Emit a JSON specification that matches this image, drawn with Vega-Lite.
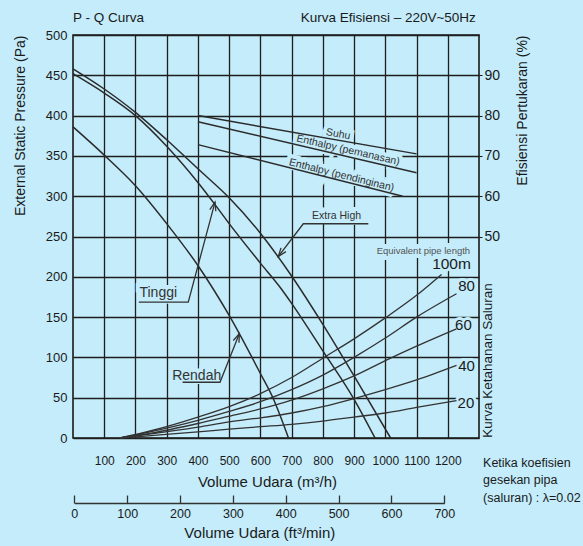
{
  "$schema": "https://vega.github.io/schema/vega-lite/v6.json",
  "width": 406,
  "height": 403,
  "autosize": {"type": "none"},
  "padding": {"left": 73, "top": 35, "right": 104, "bottom": 108},
  "background": "#c4ecfa",
  "config": {
    "font": "Liberation Sans",
    "view": {"stroke": "#1a1a1a", "strokeWidth": 1.6},
    "axis": {"labelFont": "Liberation Sans", "titleFont": "Liberation Sans", "labelColor": "#1a1a1a", "titleColor": "#1a1a1a", "titleFontWeight": "normal", "labelOverlap": false},
    "text": {"font": "Liberation Sans", "color": "#2b2b2b"},
    "line": {"color": "#2b2b2b", "strokeWidth": 1.4}
  },
  "datasets": {
    "pq": [
      {"c": "Extra High", "q": 0, "p": 458}, {"c": "Extra High", "q": 100, "p": 433}, {"c": "Extra High", "q": 200, "p": 404}, {"c": "Extra High", "q": 300, "p": 370}, {"c": "Extra High", "q": 400, "p": 334}, {"c": "Extra High", "q": 500, "p": 298}, {"c": "Extra High", "q": 600, "p": 254}, {"c": "Extra High", "q": 700, "p": 201}, {"c": "Extra High", "q": 800, "p": 141}, {"c": "Extra High", "q": 900, "p": 77}, {"c": "Extra High", "q": 1017, "p": 0},
      {"c": "Tinggi", "q": 0, "p": 452}, {"c": "Tinggi", "q": 100, "p": 428}, {"c": "Tinggi", "q": 200, "p": 400}, {"c": "Tinggi", "q": 300, "p": 362}, {"c": "Tinggi", "q": 400, "p": 317}, {"c": "Tinggi", "q": 450, "p": 292}, {"c": "Tinggi", "q": 500, "p": 266}, {"c": "Tinggi", "q": 600, "p": 217}, {"c": "Tinggi", "q": 663, "p": 187}, {"c": "Tinggi", "q": 700, "p": 167}, {"c": "Tinggi", "q": 800, "p": 108}, {"c": "Tinggi", "q": 900, "p": 48}, {"c": "Tinggi", "q": 967, "p": 0},
      {"c": "Rendah", "q": 0, "p": 386}, {"c": "Rendah", "q": 100, "p": 351}, {"c": "Rendah", "q": 200, "p": 313}, {"c": "Rendah", "q": 300, "p": 266}, {"c": "Rendah", "q": 400, "p": 214}, {"c": "Rendah", "q": 500, "p": 152}, {"c": "Rendah", "q": 600, "p": 80}, {"c": "Rendah", "q": 640, "p": 50}, {"c": "Rendah", "q": 690, "p": 0}
    ],
    "pipe": [
      {"len": "100m", "q": 150, "p": 0}, {"len": "100m", "q": 250, "p": 9}, {"len": "100m", "q": 400, "p": 26}, {"len": "100m", "q": 500, "p": 39}, {"len": "100m", "q": 600, "p": 55}, {"len": "100m", "q": 700, "p": 75}, {"len": "100m", "q": 800, "p": 99}, {"len": "100m", "q": 900, "p": 123}, {"len": "100m", "q": 1000, "p": 149}, {"len": "100m", "q": 1100, "p": 177}, {"len": "100m", "q": 1180, "p": 203},
      {"len": "80m", "q": 150, "p": 0}, {"len": "80m", "q": 250, "p": 8}, {"len": "80m", "q": 400, "p": 22}, {"len": "80m", "q": 500, "p": 33}, {"len": "80m", "q": 600, "p": 45}, {"len": "80m", "q": 700, "p": 60}, {"len": "80m", "q": 800, "p": 78}, {"len": "80m", "q": 900, "p": 100}, {"len": "80m", "q": 1000, "p": 124}, {"len": "80m", "q": 1100, "p": 150}, {"len": "80m", "q": 1228, "p": 179},
      {"len": "60m", "q": 150, "p": 0}, {"len": "60m", "q": 250, "p": 6}, {"len": "60m", "q": 400, "p": 18}, {"len": "60m", "q": 500, "p": 27}, {"len": "60m", "q": 600, "p": 36}, {"len": "60m", "q": 700, "p": 47}, {"len": "60m", "q": 800, "p": 61}, {"len": "60m", "q": 900, "p": 77}, {"len": "60m", "q": 1000, "p": 96}, {"len": "60m", "q": 1100, "p": 114}, {"len": "60m", "q": 1228, "p": 135.5},
      {"len": "40m", "q": 150, "p": 0}, {"len": "40m", "q": 250, "p": 5}, {"len": "40m", "q": 400, "p": 13.5}, {"len": "40m", "q": 500, "p": 20}, {"len": "40m", "q": 600, "p": 25}, {"len": "40m", "q": 700, "p": 31}, {"len": "40m", "q": 800, "p": 39}, {"len": "40m", "q": 900, "p": 49}, {"len": "40m", "q": 1000, "p": 60}, {"len": "40m", "q": 1100, "p": 72}, {"len": "40m", "q": 1228, "p": 90},
      {"len": "20m", "q": 150, "p": 0}, {"len": "20m", "q": 250, "p": 3}, {"len": "20m", "q": 400, "p": 7.5}, {"len": "20m", "q": 500, "p": 11}, {"len": "20m", "q": 600, "p": 14}, {"len": "20m", "q": 700, "p": 17}, {"len": "20m", "q": 800, "p": 21}, {"len": "20m", "q": 900, "p": 26}, {"len": "20m", "q": 1000, "p": 31}, {"len": "20m", "q": 1100, "p": 38}, {"len": "20m", "q": 1228, "p": 46.5}
    ],
    "eff": [
      {"k": "Suhu", "q": 400, "e": 80}, {"k": "Suhu", "q": 1100, "e": 70.5},
      {"k": "Enthalpy (pemanasan)", "q": 400, "e": 78.5}, {"k": "Enthalpy (pemanasan)", "q": 1100, "e": 65.8},
      {"k": "Enthalpy (pendinginan)", "q": 400, "e": 72.8}, {"k": "Enthalpy (pendinginan)", "q": 1056, "e": 60}
    ],
    "lead": [
      {"g": "t", "i": 0, "q": 210.7, "p": 168.5}, {"g": "t", "i": 1, "q": 369, "p": 168.5}, {"g": "t", "i": 2, "q": 454.7, "p": 292.6},
      {"g": "ta", "i": 0, "q": 438.0, "p": 283.4}, {"g": "ta", "i": 1, "q": 454.7, "p": 292.6}, {"g": "ta", "i": 2, "q": 457.3, "p": 281.4},
      {"g": "r", "i": 0, "q": 351, "p": 69.2}, {"g": "r", "i": 1, "q": 470.7, "p": 69.2}, {"g": "r", "i": 2, "q": 532.5, "p": 129.3},
      {"g": "ra", "i": 0, "q": 513.3, "p": 121.0}, {"g": "ra", "i": 1, "q": 532.5, "p": 129.3}, {"g": "ra", "i": 2, "q": 531.5, "p": 118.1},
      {"g": "e", "i": 0, "q": 945.6, "p": 265.8}, {"g": "e", "i": 1, "q": 737.4, "p": 265.8}, {"g": "e", "i": 2, "q": 657.4, "p": 225.2},
      {"g": "ea", "i": 0, "q": 681.7, "p": 231.2}, {"g": "ea", "i": 1, "q": 657.4, "p": 225.2}, {"g": "ea", "i": 2, "q": 666.0, "p": 235.9}
    ],
    "big": [{"q": 273, "p": 179.7, "t": "Tinggi"}, {"q": 396, "p": 77.5, "t": "Rendah"}],
    "eh": [{"q": 844, "p": 276, "t": "Extra High"}],
    "eq": [{"q": 1122, "p": 232.6, "t": "Equivalent pipe length"}],
    "m100": [{"q": 1212, "p": 216, "t": "100m"}],
    "nums": [{"q": 1260, "p": 188, "t": "80"}, {"q": 1250, "p": 140.8, "t": "60"}, {"q": 1260, "p": 89, "t": "40"}, {"q": 1258, "p": 43.7, "t": "20"}],
    "s1": [{"q": 849, "e": 75.4, "t": "Suhu"}],
    "s2": [{"q": 881, "e": 71.4, "t": "Enthalpy (pemanasan)"}],
    "s3": [{"q": 860, "e": 65.2, "t": "Enthalpy (pendinginan)"}]
  },
  "layer": [
    {
      "encoding": {
        "x": {
          "field": "q", "type": "quantitative",
          "scale": {"domain": [0, 1300], "nice": false, "zero": false},
          "axis": {"orient": "bottom", "values": [100, 200, 300, 400, 500, 600, 700, 800, 900, 1000, 1100, 1200], "format": "d", "labelOverlap": false, "grid": true, "gridColor": "#1e1e1e", "gridWidth": 1.3, "domain": false, "ticks": false, "labelPadding": 17, "labelFontSize": 12, "title": "Volume Udara (m³/h)", "titleFontSize": 15, "titlePadding": 8, "titleX": 194}
        }
      },
      "layer": [
        {
          "encoding": {
            "y": {
              "field": "p", "type": "quantitative",
              "scale": {"domain": [0, 500], "nice": false},
              "axis": {"orient": "left", "values": [0, 50, 100, 150, 200, 250, 300, 350, 400, 450, 500], "format": "d", "grid": true, "gridColor": "#1e1e1e", "gridWidth": 1.3, "domain": false, "ticks": false, "labelPadding": 6, "labelFontSize": 13, "title": "External Static Pressure (Pa)", "titleFontSize": 14, "titleAnchor": "end", "titlePadding": 18}
            }
          },
          "layer": [
            {"data": {"name": "big"}, "mark": {"type": "text", "fontSize": 14, "fill": "#c4ecfa", "stroke": "#c4ecfa", "strokeWidth": 8}, "encoding": {"text": {"field": "t"}}},
            {"data": {"name": "eh"}, "mark": {"type": "text", "fontSize": 10.5, "fill": "#c4ecfa", "stroke": "#c4ecfa", "strokeWidth": 8}, "encoding": {"text": {"field": "t"}}},
            {"data": {"name": "eq"}, "mark": {"type": "text", "fontSize": 9.5, "fill": "#c4ecfa", "stroke": "#c4ecfa", "strokeWidth": 8}, "encoding": {"text": {"field": "t"}}},
            {"data": {"name": "m100"}, "mark": {"type": "text", "fontSize": 15.5, "fill": "#c4ecfa", "stroke": "#c4ecfa", "strokeWidth": 6}, "encoding": {"text": {"field": "t"}}},
            {"data": {"name": "nums"}, "mark": {"type": "text", "fontSize": 15, "fill": "#c4ecfa", "stroke": "#c4ecfa", "strokeWidth": 6}, "encoding": {"text": {"field": "t"}}},
            {"data": {"name": "pq"}, "mark": {"type": "line", "interpolate": "monotone", "strokeWidth": 1.5}, "encoding": {"detail": {"field": "c"}}},
            {"data": {"name": "pipe"}, "mark": {"type": "line", "interpolate": "monotone", "strokeWidth": 1.3, "color": "#333333"}, "encoding": {"detail": {"field": "len"}}},
            {"data": {"name": "lead"}, "mark": {"type": "line", "strokeWidth": 1.3, "color": "#333333"}, "encoding": {"detail": {"field": "g"}, "order": {"field": "i"}}},
            {"data": {"name": "big"}, "mark": {"type": "text", "fontSize": 14, "color": "#333333"}, "encoding": {"text": {"field": "t"}}},
            {"data": {"name": "eh"}, "mark": {"type": "text", "fontSize": 10.5, "color": "#333333"}, "encoding": {"text": {"field": "t"}}},
            {"data": {"name": "eq"}, "mark": {"type": "text", "fontSize": 9.5, "color": "#555555"}, "encoding": {"text": {"field": "t"}}},
            {"data": {"name": "m100"}, "mark": {"type": "text", "fontSize": 15.5, "color": "#1a1a1a"}, "encoding": {"text": {"field": "t"}}},
            {"data": {"name": "nums"}, "mark": {"type": "text", "fontSize": 15, "color": "#1a1a1a"}, "encoding": {"text": {"field": "t"}}},
            {"data": {"values": [{"q": 0, "p": 520.5, "t": "P - Q Curva"}]}, "mark": {"type": "text", "fontSize": 13.5, "align": "left", "color": "#1a1a1a"}, "encoding": {"text": {"field": "t"}}},
            {"data": {"values": [{"q": 1290, "p": 520.5, "t": "Kurva Efisiensi  – 220V~50Hz"}]}, "mark": {"type": "text", "fontSize": 13.5, "align": "right", "color": "#1a1a1a"}, "encoding": {"text": {"field": "t"}}},
            {"data": {"values": [{"q": 1329, "p": 96.2, "t": "Kurva Ketahanan Saluran"}]}, "mark": {"type": "text", "fontSize": 13.5, "angle": 270, "color": "#1a1a1a"}, "encoding": {"text": {"field": "t"}}},
            {"data": {"values": [{"q": 1313, "p": -30.4, "t": "Ketika koefisien"}, {"q": 1313, "p": -52.7, "t": "gesekan pipa"}, {"q": 1313, "p": -75, "t": "(saluran) : λ=0.02"}]}, "mark": {"type": "text", "fontSize": 12.5, "align": "left", "color": "#1a1a1a"}, "encoding": {"text": {"field": "t"}}}
          ]
        },
        {
          "encoding": {
            "y": {
              "field": "e", "type": "quantitative",
              "scale": {"domain": [0, 100], "nice": false},
              "axis": {"orient": "right", "values": [50, 60, 70, 80, 90], "format": "d", "grid": false, "domain": false, "ticks": true, "tickSize": 3, "tickColor": "#1a1a1a", "labelPadding": 2, "labelFontSize": 14, "title": "Efisiensi Pertukaran (%)", "titleFontSize": 14, "titleAngle": 270, "titleAnchor": "end", "titlePadding": 30}
            }
          },
          "layer": [
            {"data": {"name": "s1"}, "mark": {"type": "text", "fontSize": 10.5, "angle": 10, "fill": "#c4ecfa", "stroke": "#c4ecfa", "strokeWidth": 8}, "encoding": {"text": {"field": "t"}}},
            {"data": {"name": "s2"}, "mark": {"type": "text", "fontSize": 10.5, "angle": 13, "fill": "#c4ecfa", "stroke": "#c4ecfa", "strokeWidth": 8}, "encoding": {"text": {"field": "t"}}},
            {"data": {"name": "s3"}, "mark": {"type": "text", "fontSize": 10.5, "angle": 14, "fill": "#c4ecfa", "stroke": "#c4ecfa", "strokeWidth": 8}, "encoding": {"text": {"field": "t"}}},
            {"data": {"name": "eff"}, "mark": {"type": "line", "strokeWidth": 1.5}, "encoding": {"detail": {"field": "k"}}},
            {"data": {"name": "s1"}, "mark": {"type": "text", "fontSize": 10.5, "angle": 10, "color": "#333333"}, "encoding": {"text": {"field": "t"}}},
            {"data": {"name": "s2"}, "mark": {"type": "text", "fontSize": 10.5, "angle": 13, "color": "#333333"}, "encoding": {"text": {"field": "t"}}},
            {"data": {"name": "s3"}, "mark": {"type": "text", "fontSize": 10.5, "angle": 14, "color": "#333333"}, "encoding": {"text": {"field": "t"}}}
          ]
        }
      ],
      "resolve": {"scale": {"y": "independent"}}
    },
    {
      "data": {"values": [{"f": 0}, {"f": 700}]},
      "mark": {"type": "rule", "opacity": 0},
      "encoding": {
        "x": {
          "field": "f", "type": "quantitative",
          "scale": {"domain": [0, 700], "range": [1.3, 371.3], "nice": false, "zero": false},
          "axis": {"orient": "bottom", "offset": 65, "values": [0, 100, 200, 300, 400, 500, 600, 700], "format": "d", "grid": false, "domain": true, "domainColor": "#333333", "domainWidth": 1.3, "ticks": true, "tickColor": "#333333", "tickWidth": 1.3, "tickSize": -8, "labelPadding": 12, "labelFontSize": 12.5, "labelFlush": false, "title": "Volume Udara (ft³/min)", "titleFontSize": 15, "titlePadding": 6}
        }
      }
    }
  ],
  "resolve": {"scale": {"x": "independent", "y": "independent"}}
}
